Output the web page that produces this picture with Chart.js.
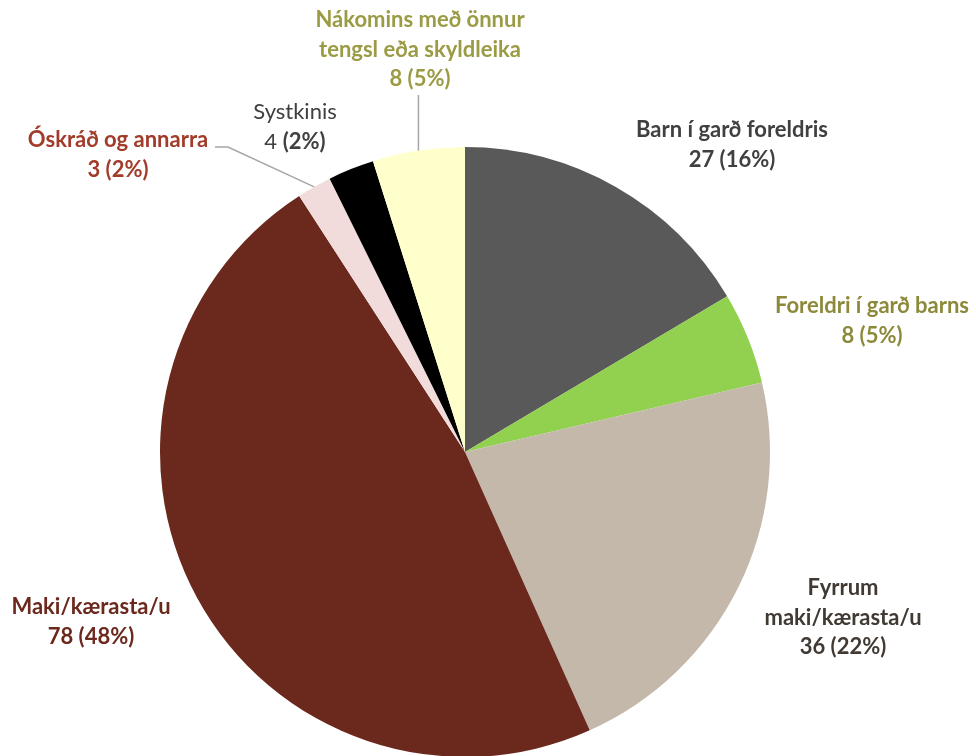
<!DOCTYPE html>
<html>
<head>
<meta charset="utf-8">
<script src="https://cdn.jsdelivr.net/npm/chart.js@4.4.0/dist/chart.umd.min.js"></script>
<style>
  html, body { margin: 0; padding: 0; background: #fff; overflow: hidden; }
  canvas { display: block; }
</style>
</head>
<body>
<canvas id="pieChart" width="976" height="770"></canvas>
<script>
// ===== DATI =====
const categorie = [
  "Barn í garð foreldris",
  "Foreldri í garð barns",
  "Fyrrum maki/kærasta/u",
  "Maki/kærasta/u",
  "Óskráð og annarra",
  "Systkinis",
  "Nákomins með önnur tengsl eða skyldleika",
];
const valori = [27, 8, 36, 78, 3, 4, 8];
const colori = ["#595959", "#92D050", "#C4B8AB", "#6B281C", "#F2DCDB", "#000000", "#FFFFCC"];

// righe delle etichette (il numero e la % vengono aggiunti dai dati)
const righeEtichette = [
  ["Barn í garð foreldris"],
  ["Foreldri í garð barns"],
  ["Fyrrum", "maki/kærasta/u"],
  ["Maki/kærasta/u"],
  ["Óskráð og annarra"],
  ["Systkinis"],
  ["Nákomins með önnur", "tengsl eða skyldleika"],
];

// ===== STILE ETICHETTE =====
const stileEtichette = [
  { x: 732, y: 130, color: "#404040" },
  { x: 872, y: 306, color: "#8C8A3A" },
  { x: 843, y: 588, color: "#403A33" },
  { x: 91, y: 607, color: "#6B281C" },
  { x: 118, y: 140, color: "#A23B2A" },
  { x: 295, y: 112, color: "#404040", misto: true },
  { x: 420, y: 20, color: "#9B9B45" },
];
const FONT = "Lato, 'Open Sans', sans-serif";
const SIZE = "22px ";
const LINE_H = 29.5;

const totale = valori.reduce((a, b) => a + b, 0);

// ===== PLUGIN ETICHETTE =====
const etichettePlugin = {
  id: "etichette",
  afterDraw(chart) {
    const ctx = chart.ctx;
    ctx.save();
    ctx.textAlign = "center";
    ctx.textBaseline = "middle";

    // linee guida
    const arcs = chart.getDatasetMeta(0).data;
    ctx.strokeStyle = "#A6A6A6";
    ctx.lineWidth = 1.5;
    // Nákomins
    const a6 = arcs[6];
    const mid6 = (a6.startAngle + a6.endAngle) / 2;
    const p6x = a6.x + Math.cos(mid6) * a6.outerRadius;
    const p6y = a6.y + Math.sin(mid6) * a6.outerRadius;
    ctx.beginPath();
    ctx.moveTo(p6x, 95);
    ctx.lineTo(p6x, p6y);
    ctx.stroke();
    // Óskráð
    const a4 = arcs[4];
    const mid4 = (a4.startAngle + a4.endAngle) / 2;
    const p4x = a4.x + Math.cos(mid4) * a4.outerRadius;
    const p4y = a4.y + Math.sin(mid4) * a4.outerRadius;
    ctx.beginPath();
    ctx.moveTo(215, 147);
    ctx.lineTo(228, 147);
    ctx.lineTo(p4x, p4y);
    ctx.stroke();

    categorie.forEach((cat, i) => {
      const s = stileEtichette[i];
      const pct = Math.round((valori[i] / totale) * 100);
      ctx.fillStyle = s.color;
      let y = s.y;
      if (s.misto) {
        ctx.font = SIZE + FONT;
        ctx.fillText(righeEtichette[i][0], s.x, y);
        y += LINE_H;
        const a = valori[i] + " ";
        const wa = ctx.measureText(a).width;
        const b = "(" + pct + "%)";
        ctx.font = "bold " + SIZE + FONT;
        const wb = ctx.measureText(b).width;
        const x0 = s.x - (wa + wb) / 2;
        ctx.textAlign = "left";
        ctx.font = SIZE + FONT;
        ctx.fillText(a, x0, y);
        ctx.font = "bold " + SIZE + FONT;
        ctx.fillText(b, x0 + wa, y);
        ctx.textAlign = "center";
        return;
      }
      ctx.font = "bold " + SIZE + FONT;
      righeEtichette[i].forEach((r) => {
        ctx.fillText(r, s.x, y);
        y += LINE_H;
      });
      ctx.fillText(valori[i] + " (" + pct + "%)", s.x, y);
    });
    ctx.restore();
  },
};

// ===== GRAFICO =====
const ctx = document.getElementById("pieChart").getContext("2d");
new Chart(ctx, {
  type: "pie",
  data: {
    labels: categorie,
    datasets: [
      {
        data: valori,
        backgroundColor: colori,
        borderWidth: 0,
      },
    ],
  },
  options: {
    responsive: false,
    animation: false,
    layout: { padding: { left: 160, right: 206, top: 147, bottom: 13 } },
    plugins: {
      legend: { display: false },
      tooltip: { enabled: false },
    },
  },
  plugins: [etichettePlugin],
});
</script>
</body>
</html>
